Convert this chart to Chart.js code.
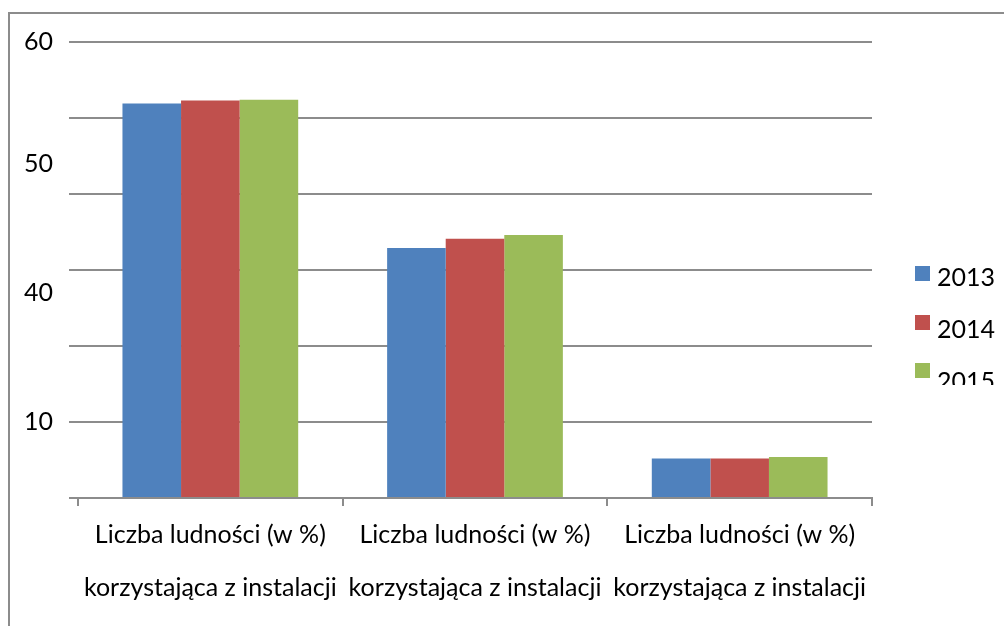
<!DOCTYPE html>
<html lang="pl">
<head>
<meta charset="utf-8">
<title>Liczba ludności korzystająca z instalacji</title>
<script src="https://cdn.jsdelivr.net/npm/chart.js@4/dist/chart.umd.min.js"></script>
<style>
    html, body { margin: 0; padding: 0; background: #fff; overflow: hidden; }
    body { width: 1004px; height: 626px; position: relative; font-family: Lato, "Open Sans", sans-serif; }
    /* frame around the embedded chart */
    #frame {
        position: absolute; left: 8px; top: 12px; width: 1100px; height: 700px;
        border-left: 2px solid #8c8c8c; border-top: 2px solid #8c8c8c;
    }
    #wrap { position: absolute; left: 0; top: 0; width: 1004px; height: 616px; }
    #legend {
        position: absolute; left: 915px; top: 266px; width: 89px; height: 119px;
        overflow: hidden;
    }
    .lg-box { position: absolute; left: 0; width: 15px; height: 15px; }
    .lg-text { position: absolute; left: 22px; font-size: 25px; line-height: 20px; color: #000; }
</style>
</head>
<body>
<div id="frame"></div>
<div id="wrap"><canvas id="chart"></canvas></div>
<div id="legend"></div>

<script>
// ========================================
// Data
// ========================================

const categories = [
    ['Liczba ludności (w %)', 'korzystająca z instalacji'],
    ['Liczba ludności (w %)', 'korzystająca z instalacji'],
    ['Liczba ludności (w %)', 'korzystająca z instalacji']
];

const years = ['2013', '2014', '2015'];

const values2013 = [51.9, 32.9, 5.2];
const values2014 = [52.3, 34.1, 5.2];
const values2015 = [52.4, 34.6, 5.4];

// y axis labels and the values they sit at
const yTickValues = [10, 27, 44, 60];
const yTickLabels = ['10', '40', '50', '60'];

const seriesColors = ['#4f81bd', '#c0504d', '#9bbb59'];
const gridColor = '#8c8c8c';
const fontFamily = 'Lato, "Open Sans", sans-serif';

// ========================================
// Chart
// ========================================

const datasets = [values2013, values2014, values2015].map((values, i) => ({
    label: years[i],
    data: values,
    backgroundColor: seriesColors[i],
    borderWidth: 0,
    barPercentage: 1,
    categoryPercentage: 0.664
}));

const ctx = document.getElementById('chart').getContext('2d');
const chart = new Chart(ctx, {
    type: 'bar',
    data: {
        labels: categories,
        datasets: datasets
    },
    options: {
        responsive: true,
        maintainAspectRatio: false,
        animation: false,
        layout: {
            padding: { top: 42, left: 8, right: 132, bottom: 0 }
        },
        plugins: {
            legend: { display: false },
            tooltip: { enabled: false }
        },
        scales: {
            x: {
                grid: {
                    offset: true,
                    drawOnChartArea: false,
                    drawTicks: true,
                    tickLength: 8,
                    color: gridColor,
                    lineWidth: 2
                },
                border: { display: true, color: gridColor, width: 2 },
                ticks: {
                    color: '#000',
                    padding: 2,
                    maxRotation: 0,
                    autoSkip: false,
                    font: { family: fontFamily, size: 25, lineHeight: '53px' }
                }
            },
            y: {
                position: 'left',
                weight: 0,
                min: 0,
                max: 60,
                ticks: { display: false, stepSize: 10 },
                grid: {
                    color: gridColor,
                    lineWidth: 2,
                    drawTicks: true,
                    tickLength: 9
                },
                border: { display: false }
            },
            yLabels: {
                position: 'left',
                weight: 1,
                min: 0,
                max: 60,
                afterBuildTicks: axis => {
                    axis.ticks = yTickValues.map(v => ({ value: v }));
                },
                ticks: {
                    autoSkip: false,
                    padding: 16,
                    color: '#000',
                    font: { family: fontFamily, size: 25 },
                    callback: (value, index) => yTickLabels[index]
                },
                grid: { display: false, drawTicks: false },
                border: { display: false }
            }
        }
    }
});

// ========================================
// Legend (built from the chart's datasets)
// ========================================

function buildLegend(chartInstance) {
    const legendEl = document.getElementById('legend');
    legendEl.innerHTML = '';
    chartInstance.data.datasets.forEach((ds, i) => {
        const box = document.createElement('div');
        box.className = 'lg-box';
        box.style.top = (i * 48.5) + 'px';
        box.style.background = ds.backgroundColor;
        const text = document.createElement('div');
        text.className = 'lg-text';
        text.style.top = (i * 52) + 'px';
        text.textContent = ds.label;
        legendEl.appendChild(box);
        legendEl.appendChild(text);
    });
}

buildLegend(chart);
</script>
</body>
</html>
